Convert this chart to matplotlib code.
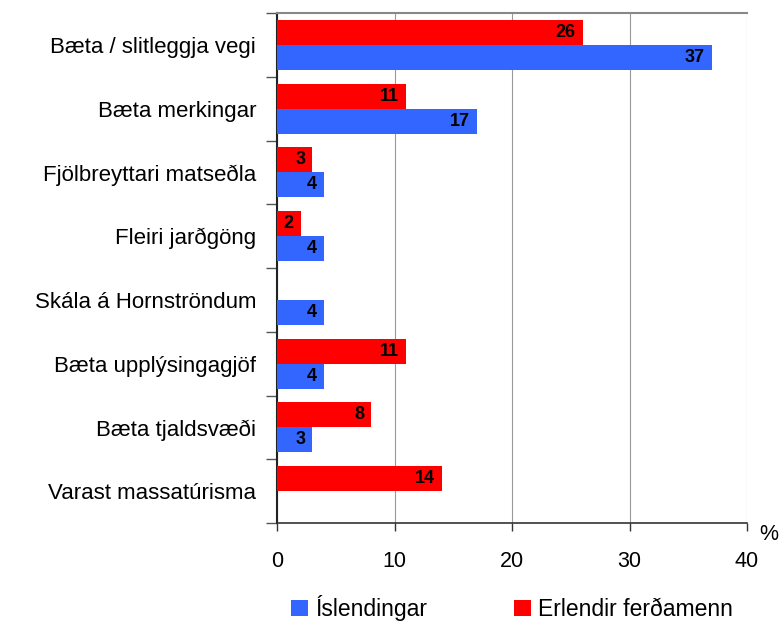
import matplotlib
matplotlib.use("Agg")
import matplotlib.pyplot as plt
import numpy as np
from matplotlib.patches import Patch

plt.rcParams['font.family'] = ['Liberation Sans', 'DejaVu Sans']

categories = ["Bæta / slitleggja vegi", "Bæta merkingar", "Fjölbreyttari matseðla",
              "Fleiri jarðgöng", "Skála á Hornströndum", "Bæta upplýsingagjöf",
              "Bæta tjaldsvæði", "Varast massatúrisma"]
erlendir = [26, 11, 3, 2, 0, 11, 8, 14]
islendingar = [37, 17, 4, 4, 4, 4, 3, 0]
series_names = ["Íslendingar", "Erlendir ferðamenn"]
xticks = [0, 10, 20, 30, 40]

RED = "#FF0000"
BLUE = "#3366FF"

fig = plt.figure(figsize=(7.81, 6.23), dpi=100)
W, H = 781, 623
ax = fig.add_axes([277 / W, (H - 523) / H, 470 / W, 510 / H])

y = np.arange(len(categories))
bh = 0.392
rb = ax.barh(y - bh / 2, erlendir, height=bh, color=RED, zorder=3)
bb = ax.barh(y + bh / 2, islendingar, height=bh, color=BLUE, zorder=3)

for bars, vals in ((rb, erlendir), (bb, islendingar)):
    for rect, v in zip(bars, vals):
        if v > 0:
            ax.annotate(str(v), xy=(v, rect.get_y() + rect.get_height() / 2),
                        xytext=(-5, 0), textcoords='offset points',
                        ha='right', va='center', fontsize=13, fontweight='bold',
                        color='black', zorder=4)

ax.set_xlim(0, 40)
ax.set_ylim(len(categories) - 0.5, -0.5)
ax.set_xticks(xticks)
ax.set_xticklabels([str(t) for t in xticks], fontsize=15.5)
ax.tick_params(axis='x', length=6, width=1, color='#333333', pad=14)
ax.set_yticks(y)
ax.set_yticklabels(categories, fontsize=16)
ax.tick_params(axis='y', which='major', length=0, pad=15)
ax.set_yticks(np.arange(-0.5, len(categories), 1), minor=True)
ax.tick_params(axis='y', which='minor', length=8, width=1, color='#555555')

ax.grid(axis='x', color='#999999', linewidth=0.8, zorder=0)
ax.set_axisbelow(True)
ax.spines['right'].set_visible(False)
ax.spines['top'].set_color('#888888')
ax.spines['top'].set_linewidth(1.5)
ax.spines['left'].set_color('#222222')
ax.spines['left'].set_linewidth(1.5)
ax.spines['bottom'].set_color('#333333')
ax.spines['bottom'].set_linewidth(1.2)

fig.text(769 / W, 1 - 534 / H, "%", fontsize=15.5, ha='center', va='center')

handles = [Patch(facecolor=BLUE), Patch(facecolor=RED)]
fig.legend(handles, series_names, loc='center', bbox_to_anchor=(512 / W, 1 - 608 / H),
           ncol=2, frameon=False, fontsize=16.5, handlelength=0.75, handleheight=0.75,
           handletextpad=0.3, columnspacing=3.8)

fig.savefig("out.png", dpi=100)
